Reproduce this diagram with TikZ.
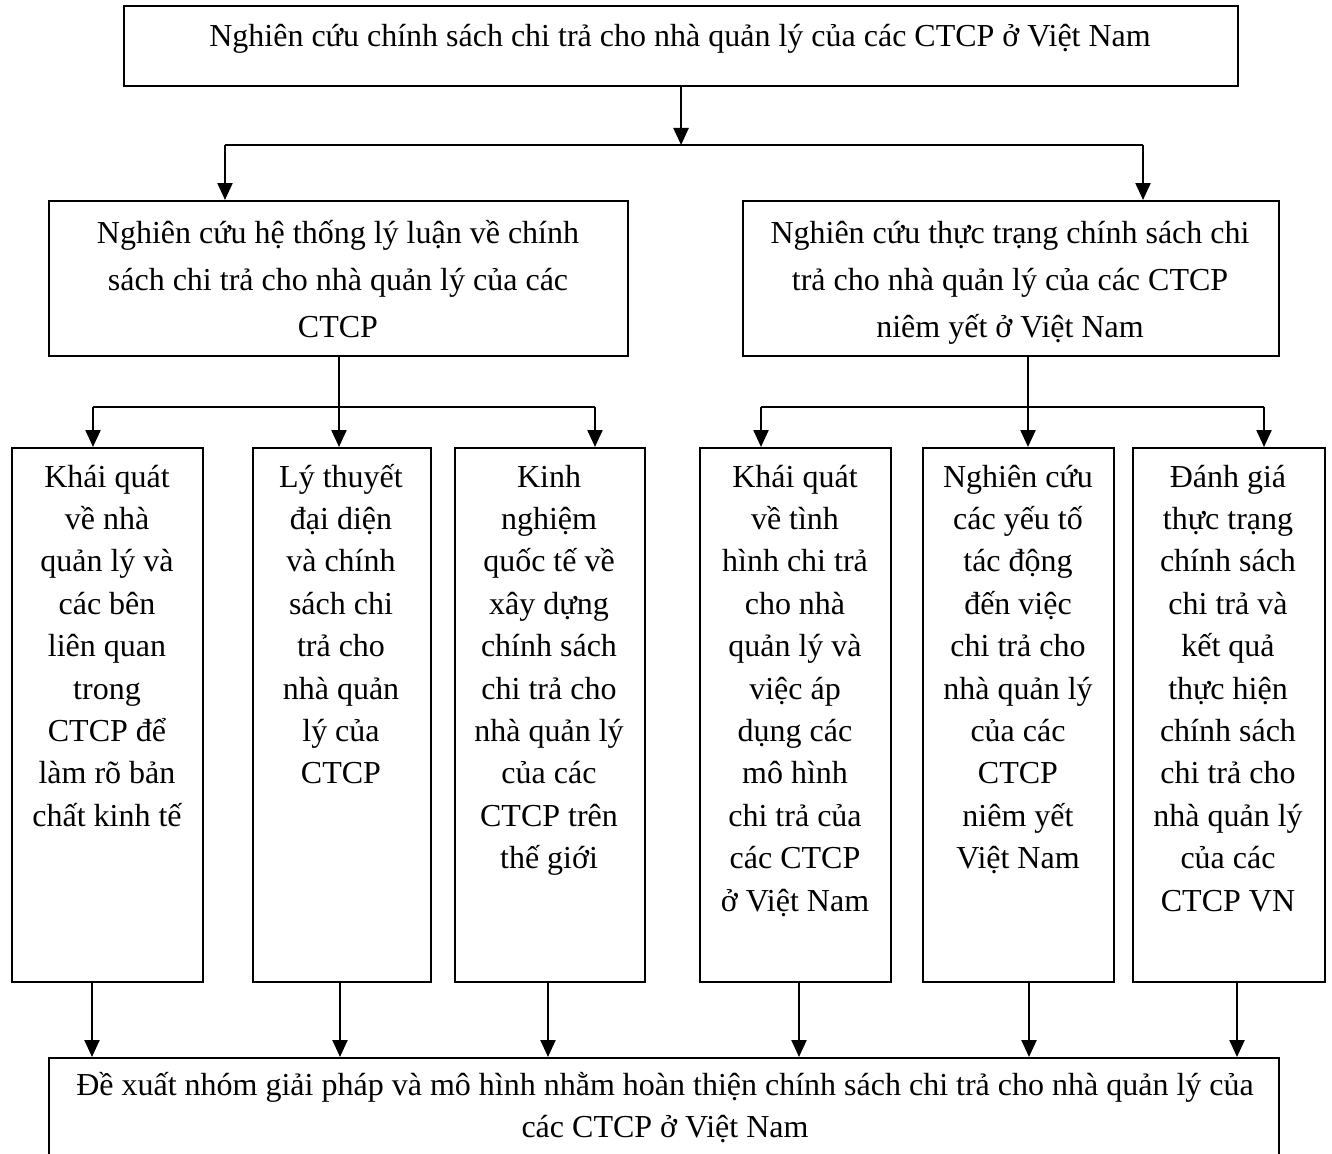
\documentclass[tikz,border=0pt]{standalone}
\usepackage{fontspec}
\setmainfont{Liberation Serif}
\usetikzlibrary{arrows.meta}
% centred lines whose baseline is the first line's baseline
\newcommand\colstack[1]{\begin{tabular}[t]{@{}c@{}}#1\end{tabular}}
\begin{document}
\begin{tikzpicture}[x=1pt,y=-1pt,
  box/.style={draw,line width=2.1pt,rectangle,inner sep=0pt,anchor=north west},
  txt/.style={inner sep=0pt,anchor=base,font=\fontsize{32}{42.4}\selectfont},
  midtxt/.style={txt,font=\fontsize{32}{47}\selectfont},
  link/.style={line width=2.3pt},
  arr/.style={link,-{Triangle[length=17pt,width=15pt]}}]
\useasboundingbox (0,0) rectangle (1332,1153);

% boxes
\node[box,minimum width=1114pt,minimum height=80pt] (t) at (123,5) {};
\node[box,minimum width=579pt,minimum height=155pt] (m1) at (48,200) {};
\node[box,minimum width=536pt,minimum height=155pt] (m2) at (742,200) {};
\node[box,minimum width=191pt,minimum height=534pt] (b1) at (11,447) {};
\node[box,minimum width=178pt,minimum height=534pt] (b2) at (252,447) {};
\node[box,minimum width=190pt,minimum height=534pt] (b3) at (454,447) {};
\node[box,minimum width=191pt,minimum height=534pt] (b4) at (699,447) {};
\node[box,minimum width=191pt,minimum height=534pt] (b5) at (922,447) {};
\node[box,minimum width=192pt,minimum height=534pt] (b6) at (1132,447) {};
\node[box,minimum width=1230pt,minimum height=120pt] (e) at (48,1057) {};

% texts
\node[txt] (tt) at (680,47) {Nghiên cứu chính sách chi trả cho nhà quản lý của các CTCP ở Việt Nam};
\node[midtxt] (m1t) at (338,243) {\colstack{Nghiên cứu hệ thống lý luận về chính\\sách chi trả cho nhà quản lý của các\\CTCP}};
\node[midtxt] (m2t) at (1010,243) {\colstack{Nghiên cứu thực trạng chính sách chi\\trả cho nhà quản lý của các CTCP\\niêm yết ở Việt Nam}};
\node[txt] (b1t) at (107,487) {\colstack{Khái quát\\về nhà\\quản lý và\\các bên\\liên quan\\trong\\CTCP để\\làm rõ bản\\chất kinh tế}};
\node[txt] (b2t) at (341,487) {\colstack{Lý thuyết\\đại diện\\và chính\\sách chi\\trả cho\\nhà quản\\lý của\\CTCP}};
\node[txt] (b3t) at (549,487) {\colstack{Kinh\\nghiệm\\quốc tế về\\xây dựng\\chính sách\\chi trả cho\\nhà quản lý\\của các\\CTCP trên\\thế giới}};
\node[txt] (b4t) at (795,487) {\colstack{Khái quát\\về tình\\hình chi trả\\cho nhà\\quản lý và\\việc áp\\dụng các\\mô hình\\chi trả của\\các CTCP\\ở Việt Nam}};
\node[txt] (b5t) at (1018,487) {\colstack{Nghiên cứu\\các yếu tố\\tác động\\đến việc\\chi trả cho\\nhà quản lý\\của các\\CTCP\\niêm yết\\Việt Nam}};
\node[txt] (b6t) at (1228,487) {\colstack{Đánh giá\\thực trạng\\chính sách\\chi trả và\\kết quả\\thực hiện\\chính sách\\chi trả cho\\nhà quản lý\\của các\\CTCP VN}};
\node[txt] (et) at (665,1095) {\colstack{Đề xuất nhóm giải pháp và mô hình nhằm hoàn thiện chính sách chi trả cho nhà quản lý của\\các CTCP ở Việt Nam}};

% junction points
\coordinate (jl) at (225,145);
\coordinate (jr) at (1143,145);
\coordinate (ls) at (339,355);
\coordinate (la) at (93,407);
\coordinate (lc) at (595,407);
\coordinate (rs) at (1028,355);
\coordinate (ra) at (761,407);
\coordinate (rc) at (1264,407);

% level 1 to level 2
\draw[arr] (t.south) -- (t.south |- jl);
\draw[link] (jl) -- (jr);
\draw[arr] (jl) -- (jl |- m1.north);
\draw[arr] (jr) -- (jr |- m2.north);

% left branch
\draw[arr] (ls) -- (ls |- b2.north);
\draw[link] (la) -- (lc);
\draw[arr] (la) -- (la |- b1.north);
\draw[arr] (lc) -- (lc |- b3.north);

% right branch
\draw[arr] (rs) -- (rs |- b5.north);
\draw[link] (ra) -- (rc);
\draw[arr] (ra) -- (ra |- b4.north);
\draw[arr] (rc) -- (rc |- b6.north);

% columns to the final box
\coordinate (o1) at (92,981);
\coordinate (o2) at (340,981);
\coordinate (o3) at (548,981);
\coordinate (o4) at (799,981);
\coordinate (o5) at (1029,981);
\coordinate (o6) at (1237,981);
\foreach \o in {o1,o2,o3,o4,o5,o6}
  \draw[arr] (\o) -- (\o |- e.north);
\end{tikzpicture}
\end{document}
